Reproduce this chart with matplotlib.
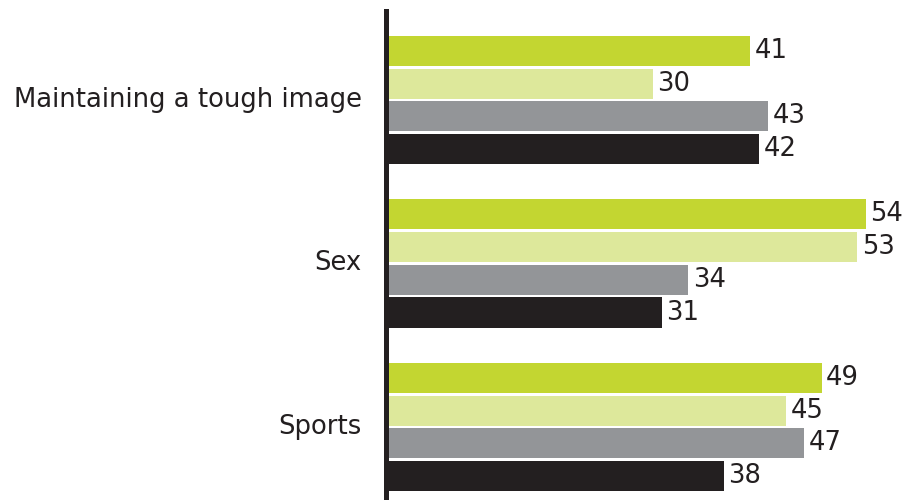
import matplotlib
matplotlib.use("Agg")
import matplotlib.pyplot as plt

categories = ["Maintaining a tough image", "Sex", "Sports"]
series_names = ["Series 1", "Series 2", "Series 3", "Series 4"]
values = [
    [41, 30, 43, 42],
    [54, 53, 34, 31],
    [49, 45, 47, 38],
]
colors = ["#c3d631", "#dde89b", "#939598", "#231f20"]

W, H = 911, 500
fig = plt.figure(figsize=(W / 100, H / 100), dpi=100)
ax = fig.add_axes([386 / W, 0, (W - 386) / W, 489 / H])

plt.rcParams["font.family"] = ["DejaVu Sans"]
FS = 18.6

group_step = 5
for g, row in enumerate(values):
    for s, v in enumerate(row):
        y = g * group_step + s
        ax.barh(y, v, height=0.92, color=colors[s], linewidth=0)
        ax.text(v + 0.5, y, str(v), va="center", ha="left", fontsize=FS, color="#231f20")

for g, cat in enumerate(categories):
    yc = g * group_step + 1.5
    ax.text(-2.7, yc, cat, va="center", ha="right", fontsize=FS, color="#231f20")

ax.set_xlim(0, 525 / 8.89)
ax.set_ylim(13.734, -1.223)
for sp in ["top", "right", "bottom"]:
    ax.spines[sp].set_visible(False)
ax.spines["left"].set_linewidth(3.6)
ax.spines["left"].set_color("#231f20")
ax.set_xticks([])
ax.set_yticks([])

fig.savefig("out.png", dpi=100)
